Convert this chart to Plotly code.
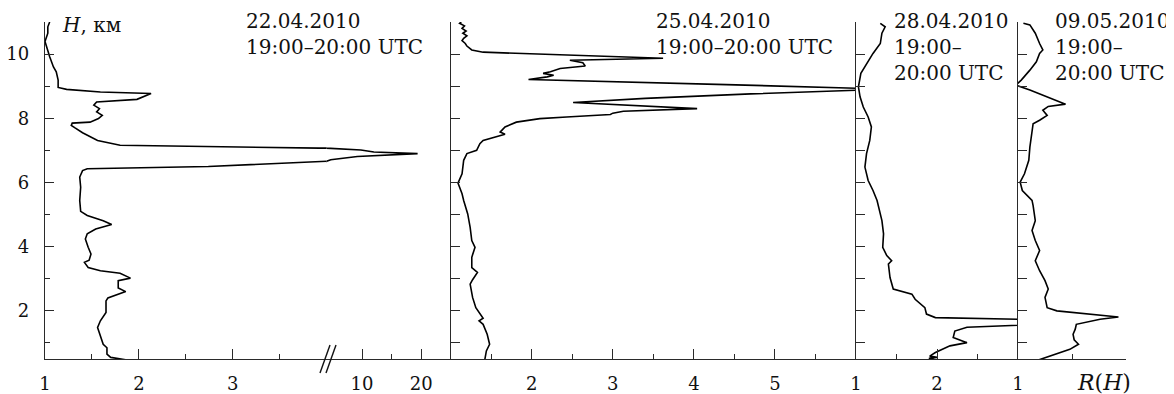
import plotly.graph_objects as go

# ---- data (H in km, R(H)) ----
h1 = [0.47,0.55,0.65,0.85,0.96,1.28,1.48,1.69,1.95,2.31,2.40,2.60,2.71,2.94,3.02,3.17,3.25,3.35,3.51,3.58,3.77,3.98,4.24,4.40,4.55,4.69,4.81,4.97,5.10,5.44,5.85,6.17,6.37,6.43,6.50,6.66,6.71,6.81,6.90,6.95,7.01,7.07,7.12,7.16,7.31,7.45,7.55,7.70,7.78,7.85,7.88,7.99,8.09,8.20,8.30,8.41,8.51,8.59,8.67,8.77,8.82,8.90,8.96,9.19,9.45,9.60,9.92,10.23,10.39,10.65,10.85,11.0]
r1 = [1.87,1.70,1.66,1.66,1.62,1.58,1.56,1.59,1.65,1.65,1.67,1.86,1.78,1.78,1.91,1.80,1.59,1.46,1.42,1.47,1.49,1.46,1.43,1.45,1.54,1.71,1.62,1.45,1.38,1.37,1.38,1.37,1.40,1.45,2.74,4.0,4.7,9.2,19.4,12.0,9.8,3.92,2.74,1.80,1.56,1.46,1.40,1.32,1.28,1.29,1.48,1.57,1.61,1.55,1.58,1.52,1.55,1.98,2.05,2.13,1.59,1.23,1.14,1.14,1.12,1.09,1.05,1.02,1.00,1.03,1.03,1.05]

h2 = [0.47,0.75,0.96,1.27,1.58,1.69,1.77,2.10,2.42,2.83,2.97,3.20,3.35,3.67,3.98,4.19,4.60,5.02,5.44,5.65,5.98,6.27,6.69,6.90,7.00,7.21,7.31,7.40,7.50,7.57,7.73,7.88,7.99,8.04,8.12,8.16,8.22,8.30,8.49,8.62,8.76,8.88,8.93,9.05,9.14,9.21,9.29,9.34,9.40,9.45,9.55,9.63,9.73,9.81,9.87,10.06,10.13,10.25,10.33,10.42,10.49,10.57,10.65,10.72,10.80,10.88,10.96,11.0]
r2 = [1.42,1.44,1.48,1.45,1.40,1.35,1.40,1.31,1.27,1.24,1.27,1.33,1.26,1.26,1.30,1.26,1.24,1.21,1.16,1.14,1.09,1.14,1.16,1.20,1.32,1.36,1.40,1.53,1.67,1.61,1.67,1.81,2.10,2.43,2.97,3.00,3.13,4.04,2.51,3.40,4.70,6.10,6.10,4.40,3.00,1.96,2.19,2.27,2.14,2.23,2.35,2.66,2.63,2.47,3.62,1.40,1.26,1.20,1.18,1.14,1.16,1.20,1.15,1.19,1.14,1.17,1.11,1.13]

h3 = [0.47,0.52,0.55,0.59,0.70,0.91,1.01,1.12,1.17,1.37,1.49,1.55,1.62,1.70,1.74,1.79,1.90,2.10,2.36,2.52,2.68,3.04,3.46,3.56,3.72,3.98,4.40,4.81,5.23,5.44,5.75,6.06,6.48,6.90,7.31,7.73,8.04,8.35,8.67,8.98,9.40,9.71,10.02,10.33,10.65,10.85,10.96]
r3 = [1.98,1.90,2.00,1.91,1.98,2.16,2.37,2.26,2.20,2.22,2.37,3.00,3.30,3.30,3.00,1.98,1.87,1.85,1.73,1.69,1.46,1.42,1.40,1.44,1.38,1.33,1.34,1.32,1.28,1.26,1.21,1.15,1.11,1.13,1.17,1.19,1.15,1.09,1.05,1.03,1.06,1.13,1.21,1.30,1.32,1.36,1.30]

h4 = [0.47,0.65,0.80,0.96,1.10,1.27,1.43,1.58,1.74,1.81,1.90,2.00,2.10,2.42,2.68,2.94,3.25,3.56,3.88,4.19,4.50,4.81,5.28,5.44,5.75,6.01,6.27,6.69,7.10,7.52,7.83,7.94,8.09,8.25,8.37,8.44,8.51,8.67,8.88,9.03,9.19,9.50,9.76,10.02,10.13,10.33,10.65,10.91,10.96]
r4 = [1.19,1.36,1.48,1.56,1.52,1.51,1.53,1.54,1.76,1.93,1.67,1.36,1.27,1.25,1.28,1.25,1.20,1.16,1.20,1.16,1.13,1.16,1.14,1.13,1.04,1.02,1.06,1.10,1.11,1.13,1.14,1.20,1.27,1.23,1.28,1.44,1.39,1.27,1.11,0.98,1.03,1.11,1.17,1.20,1.23,1.20,1.16,1.11,1.05]

dates = ["22.04.2010<br>19:00–20:00 UTC", "25.04.2010<br>19:00–20:00 UTC",
         "28.04.2010<br>19:00–<br>20:00 UTC", "09.05.2010<br>19:00–<br>20:00 UTC"]

p1_ticks_left = [1, 2, 3]
p1_ticks_right = [10, 20]
p2_ticks = [2, 3, 4, 5]
p3_ticks = [1, 2]
p4_ticks = [1, 2]
p4_labels = ["1", ""]
y_ticks = [2, 4, 6, 8, 10]

# ---- layout helpers (page body has an 8px margin) ----
OFF = 8
W, H = 1174 - OFF, 394 - OFF
ML, MT = 45 - OFF, 22 - OFF
PW = 1126 - 45
PH = 359 - 22
MR = W - ML - PW
MB = H - MT - PH
def px(xp):
    return (xp - 45) / PW
def py(yp):
    return (359 - yp) / PH

d_brk = px(326.6)
d_p2 = px(450.7)
d_p3 = px(856)
d_p4 = px(1018)

FONT = "DejaVu Serif"
AX = "#2a2a2a"
LINE = dict(color="black", width=1.6)

fig = go.Figure()
fig.add_trace(go.Scatter(x=r1, y=h1, mode="lines", line=LINE, xaxis="x", yaxis="y"))
fig.add_trace(go.Scatter(x=r1, y=h1, mode="lines", line=LINE, xaxis="x2", yaxis="y2"))
fig.add_trace(go.Scatter(x=r2, y=h2, mode="lines", line=LINE, xaxis="x3", yaxis="y3"))
fig.add_trace(go.Scatter(x=r3, y=h3, mode="lines", line=LINE, xaxis="x4", yaxis="y4"))
fig.add_trace(go.Scatter(x=r4, y=h4, mode="lines", line=LINE, xaxis="x5", yaxis="y5"))

tickfont = dict(family=FONT, size=18, color="#111")

def xax(domain, rng, tickvals, ticktext, minorvals, anchor):
    return dict(domain=domain, range=rng, anchor=anchor, showline=True, linecolor=AX, linewidth=1.4,
                showgrid=False, zeroline=False, ticks="inside", ticklen=10, tickwidth=1.3, tickcolor=AX,
                tickmode="array", tickvals=tickvals, ticktext=ticktext, tickfont=tickfont,
                ticklabelstandoff=8, automargin=False,
                minor=dict(tickmode="array", tickvals=minorvals, ticks="inside", ticklen=5,
                           tickwidth=1.3, tickcolor=AX, showgrid=False),
                fixedrange=True)

def yax(anchor, labels, tickvals, minorvals, visible=True):
    return dict(domain=[0, 1], range=[0.5, 11], anchor=anchor, visible=visible, showline=True,
                linecolor=AX, linewidth=1.4, showgrid=False, zeroline=False, ticks="inside",
                ticklen=9, tickwidth=1.3, tickcolor=AX, tickmode="array", tickvals=tickvals,
                ticktext=[str(v) for v in tickvals], showticklabels=labels, tickfont=tickfont,
                ticklabelstandoff=11, automargin=False,
                minor=dict(tickmode="array", tickvals=minorvals, ticks="inside", ticklen=5,
                           tickwidth=1.3, tickcolor=AX, showgrid=False),
                fixedrange=True)

all_y = list(range(1, 11))
fig.update_layout(
    width=W, height=H, margin=dict(l=ML, r=MR, t=MT, b=MB, autoexpand=False),
    paper_bgcolor="white", plot_bgcolor="white", showlegend=False,
    font=dict(family=FONT, color="#111"),
    xaxis=xax([0, d_brk], [1, 4], p1_ticks_left, [str(v) for v in p1_ticks_left], [1.5, 2.5, 3.5], "y"),
    xaxis2=xax([d_brk, d_p2], [4, 25], p1_ticks_right, [str(v) for v in p1_ticks_right], [15], "y2"),
    xaxis3=xax([d_p2, d_p3], [1, 6], p2_ticks, [str(v) for v in p2_ticks], [1.5, 2.5, 3.5, 4.5, 5.5], "y3"),
    xaxis4=xax([d_p3, d_p4], [1, 3], p3_ticks, [str(v) for v in p3_ticks], [1.5, 2.5], "y4"),
    xaxis5=xax([d_p4, 1], [1, 2], p4_ticks, p4_labels, [1.5], "y5"),
    yaxis=yax("x", True, y_ticks, [1, 3, 5, 7, 9, 11]),
    yaxis2=yax("x2", False, [], [], visible=False),
    yaxis3=yax("x3", False, all_y, [11]),
    yaxis4=yax("x4", False, all_y, [11]),
    yaxis5=yax("x5", False, all_y, [11]),
)

afont = dict(family=FONT, size=20, color="#111")
ann = []
for i, (xp, txt) in enumerate(zip([244, 654, 892, 1172], dates)):
    ann.append(dict(x=px(xp), y=py(7), xref="paper", yref="paper",
                    xanchor="right" if i == 3 else "left", yanchor="top",
                    align="left", text=txt, showarrow=False, font=afont))
ann.append(dict(x=px(60), y=py(25), xref="paper", yref="paper", xanchor="left", yanchor="middle",
                text="<i>H</i>, км", showarrow=False, font=dict(family=FONT, size=20, color="#111")))
ann.append(dict(x=px(1104), y=py(382), xref="paper", yref="paper", xanchor="center", yanchor="middle",
                text="<i>R</i>(<i>H</i>)", showarrow=False, font=dict(family=FONT, size=22, color="#111")))
fig.update_layout(annotations=ann)

# axis-break marks
for dx in (0, 6):
    fig.add_shape(type="line", xref="paper", yref="paper",
                  x0=px(320 + dx), y0=py(373), x1=px(330 + dx), y1=py(345),
                  line=dict(color="#111", width=1.4))

fig.write_html("out.html")
